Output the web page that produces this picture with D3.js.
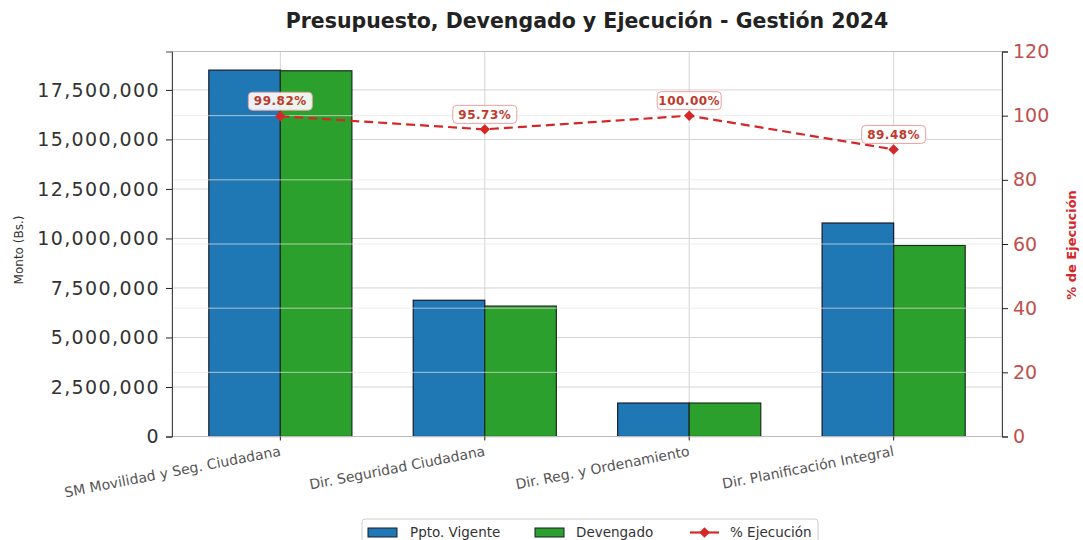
<!DOCTYPE html>
<html>
<head>
<meta charset="utf-8">
<script src="https://cdn.jsdelivr.net/npm/d3@7"></script>
<style>
    body { margin: 0; background: #fff; }
    text { font-family: "DejaVu Sans", sans-serif; }
</style>
</head>
<body>
<div id="chart"></div>
<script>
var categories = ["SM Movilidad y Seg. Ciudadana", "Dir. Seguridad Ciudadana", "Dir. Reg. y Ordenamiento", "Dir. Planificación Integral"];
var vigente = [18500000, 6880000, 1690000, 10780000];
var devengado = [18467000, 6586000, 1690000, 9646000];
var ejecucion = [99.82, 95.73, 100.00, 89.48];
var leftTicks = [0, 2500000, 5000000, 7500000, 10000000, 12500000, 15000000, 17500000];
var rightTicks = [0, 20, 40, 60, 80, 100, 120];

(function () {
    var width = 1083,
        height = 540;

    var left = 172, right = 1002, top = 51.5, bottom = 436.5;

    var svg = d3.select("#chart").append("svg")
        .attr("width", width)
        .attr("height", height)

    var x = d3.scaleLinear().domain([-0.53, 3.53]).range([left, right])
    var y = d3.scaleLinear().domain([0, 19440000]).range([bottom, top])
    var y2 = d3.scaleLinear().domain([0, 120]).range([bottom, top])

    var barW = 0.35;
    var fmt = d3.format(",");

    // grid behind the bars
    svg.append("g").selectAll("line")
        .data(leftTicks)
        .enter().append("line")
        .attr("x1", left).attr("x2", right)
        .attr("y1", function (d) { return y(d) }).attr("y2", function (d) { return y(d) })
        .attr("stroke", "#d4d4d4").attr("stroke-width", 1)

    svg.append("g").selectAll("line")
        .data(categories)
        .enter().append("line")
        .attr("x1", function (d, i) { return x(i) }).attr("x2", function (d, i) { return x(i) })
        .attr("y1", top).attr("y2", bottom)
        .attr("stroke", "#d4d4d4").attr("stroke-width", 1)

    // bars
    svg.append("g").selectAll("rect")
        .data(vigente)
        .enter().append("rect")
        .attr("x", function (d, i) { return x(i - barW) })
        .attr("width", x(barW) - x(0))
        .attr("y", function (d) { return y(d) })
        .attr("height", function (d) { return bottom - y(d) })
        .attr("fill", "#1f77b4")
        .attr("stroke", "#1a1a2e").attr("stroke-width", 1.2)

    svg.append("g").selectAll("rect")
        .data(devengado)
        .enter().append("rect")
        .attr("x", function (d, i) { return x(i) })
        .attr("width", x(barW) - x(0))
        .attr("y", function (d) { return y(d) })
        .attr("height", function (d) { return bottom - y(d) })
        .attr("fill", "#2ca02c")
        .attr("stroke", "#1a2e1a").attr("stroke-width", 1.2)

    // right axis grid drawn on top
    svg.append("g").selectAll("line")
        .data(rightTicks)
        .enter().append("line")
        .attr("x1", left).attr("x2", right)
        .attr("y1", function (d) { return y2(d) }).attr("y2", function (d) { return y2(d) })
        .attr("stroke", "#e6e6e6").attr("stroke-width", 1).attr("opacity", 0.7)

    // frame
    svg.append("rect")
        .attr("x", left).attr("y", top)
        .attr("width", right - left).attr("height", bottom - top)
        .attr("fill", "none").attr("stroke", "#bdbdbd").attr("stroke-width", 1)

    // left axis
    var yAxis = svg.append("g")
        .attr("transform", "translate(" + left + ",0)")
        .call(d3.axisLeft(y).tickValues(leftTicks).tickFormat(fmt).tickSize(6).tickPadding(6))
    yAxis.select(".domain").attr("stroke", "#444")
    yAxis.selectAll(".tick line").attr("stroke", "#222")
    yAxis.selectAll("text").attr("font-size", 19).attr("fill", "#333").style("letter-spacing", "1.4px")

    // right axis
    var y2Axis = svg.append("g")
        .attr("transform", "translate(" + right + ",0)")
        .call(d3.axisRight(y2).tickValues(rightTicks).tickSize(6).tickPadding(5))
    y2Axis.select(".domain").attr("stroke", "#444")
    y2Axis.selectAll(".tick line").attr("stroke", "#222")
    y2Axis.selectAll("text").attr("font-size", 19).attr("fill", "#c0504d")

    // bottom ticks + rotated labels
    svg.append("g").selectAll("line")
        .data(categories)
        .enter().append("line")
        .attr("x1", function (d, i) { return x(i) }).attr("x2", function (d, i) { return x(i) })
        .attr("y1", bottom).attr("y2", bottom + 4)
        .attr("stroke", "#222")

    svg.append("g").selectAll("text")
        .data(categories)
        .enter().append("text")
        .attr("transform", function (d, i) { return "translate(" + (x(i) + 1) + "," + (bottom + 19) + ") rotate(-11)" })
        .attr("text-anchor", "end")
        .attr("font-size", 14)
        .attr("fill", "#555")
        .text(function (d) { return d })

    // execution line
    var line = d3.line()
        .x(function (d, i) { return x(i) })
        .y(function (d) { return y2(d) })

    svg.append("path")
        .datum(ejecucion)
        .attr("d", line)
        .attr("fill", "none")
        .attr("stroke", "#d62728")
        .attr("stroke-width", 2.2)
        .attr("stroke-dasharray", "9,5")

    svg.append("g").selectAll("path")
        .data(ejecucion)
        .enter().append("path")
        .attr("d", d3.symbol().type(d3.symbolDiamond2).size(70))
        .attr("transform", function (d, i) { return "translate(" + x(i) + "," + y2(d) + ")" })
        .attr("fill", "#d62728")

    // percentage labels
    var labels = svg.append("g").selectAll("g")
        .data(ejecucion)
        .enter().append("g")
        .attr("transform", function (d, i) { return "translate(" + x(i) + "," + (y2(d) - 15) + ")" })

    labels.append("rect")
        .attr("x", -32).attr("y", -9)
        .attr("width", 64).attr("height", 18)
        .attr("rx", 4)
        .attr("fill", "#fff").attr("fill-opacity", 0.9)
        .attr("stroke", "#e8a0a0").attr("stroke-width", 1)

    labels.append("text")
        .attr("text-anchor", "middle")
        .attr("dy", "0.35em")
        .attr("font-size", 12)
        .attr("font-weight", "bold")
        .attr("fill", "#c0392b")
        .style("letter-spacing", "0.5px")
        .text(function (d) { return d.toFixed(2) + "%" })

    // titles
    svg.append("text")
        .attr("x", (left + right) / 2).attr("y", 28)
        .attr("text-anchor", "middle")
        .attr("font-size", 20.5).attr("font-weight", "bold").attr("fill", "#222")
        .text("Presupuesto, Devengado y Ejecución - Gestión 2024")

    svg.append("text")
        .attr("transform", "translate(23,250) rotate(-90)")
        .attr("text-anchor", "middle")
        .attr("font-size", 12).attr("fill", "#333")
        .text("Monto (Bs.)")

    svg.append("text")
        .attr("transform", "translate(1076,245) rotate(-90)")
        .attr("text-anchor", "middle")
        .attr("font-size", 13).attr("font-weight", "bold").attr("fill", "#d62728")
        .text("% de Ejecución")

    // legend
    var lg = svg.append("g").attr("transform", "translate(362,519)")
    lg.append("rect")
        .attr("width", 456).attr("height", 30)
        .attr("rx", 3)
        .attr("fill", "#fff").attr("stroke", "#ccc")

    var items = [
        { label: "Ppto. Vigente", color: "#1f77b4", x: 6, tx: 48 },
        { label: "Devengado", color: "#2ca02c", x: 173, tx: 214 },
        { label: "% Ejecución", color: "#d62728", x: 328, tx: 368 }
    ]
    items.forEach(function (d, i) {
        if (i < 2) {
            lg.append("rect")
                .attr("x", d.x).attr("y", 9)
                .attr("width", 29).attr("height", 9)
                .attr("fill", d.color).attr("stroke", "#1a1a2e")
        } else {
            lg.append("line")
                .attr("x1", d.x).attr("x2", d.x + 29)
                .attr("y1", 13.5).attr("y2", 13.5)
                .attr("stroke", d.color).attr("stroke-width", 2.2)
            lg.append("path")
                .attr("d", d3.symbol().type(d3.symbolDiamond2).size(70))
                .attr("transform", "translate(" + (d.x + 14.5) + ",13.5)")
                .attr("fill", d.color)
        }
        lg.append("text")
            .attr("x", d.tx).attr("y", 18)
            .attr("font-size", 13.5).attr("fill", "#333")
            .text(d.label)
    })

})();
</script>
</body>
</html>
